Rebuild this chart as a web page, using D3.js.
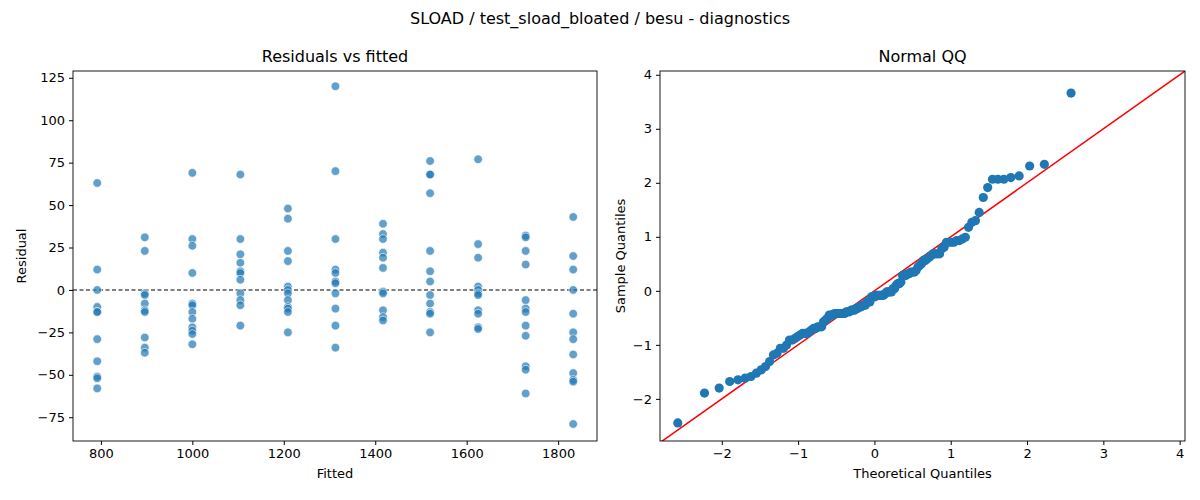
<!DOCTYPE html>
<html>
<head>
<meta charset="utf-8">
<script src="https://cdn.jsdelivr.net/npm/d3@7"></script>
<style>
  body { margin: 0; background: #fff; }
  text { font-family: "DejaVu Sans", sans-serif; fill: #000; }
</style>
</head>
<body>
<svg id="chart" width="1200" height="500"></svg>
<script>
// fitted level of each group and its residuals
var fitted = [792, 896, 1000, 1105, 1209, 1313, 1417, 1520, 1625, 1729, 1833];
var residuals = [
  [63, 12, 0, -10, -13, -13, -29, -42, -51, -52, -58],
  [31, 23, -2, -3, -8, -12, -13, -28, -34, -37],
  [69, 30, 26, 10, -8, -9, -13, -17, -22, -24, -26, -32],
  [68, 30, 21, 16, 11, 10, 6, -2, -6, -9, -21],
  [48, 42, 23, 17, 2, 0, -2, -6, -10, -11, -13, -25],
  [120, 70, 30, 12, 10, 5, 4, -2, -11, -21, -34],
  [39, 33, 30, 22, 19, 13, -1, -2, -12, -16, -18],
  [76, 68, 68, 57, 23, 11, 5, -3, -8, -13, -14, -25],
  [77, 27, 19, 2, 0, -2, -3, -12, -14, -22, -23],
  [32, 31, 23, 15, -6, -11, -13, -21, -27, -45, -47, -61],
  [43, 20, 12, 0, -14, -25, -29, -38, -49, -53, -54, -79]
];
var xTicksLeft = [800, 1000, 1200, 1400, 1600, 1800];
var yTicksLeft = [-75, -50, -25, 0, 25, 50, 75, 100, 125];
var qqTicks = [-2, -1, 0, 1, 2, 3, 4];

var svg = d3.select('#chart');
var blue = '#1f77b4';

svg.append('text').attr('x', 600).attr('y', 24).attr('text-anchor', 'middle')
  .style('font-size', '16px').text('SLOAD / test_sload_bloated / besu - diagnostics');

function frame(g, w, h, title) {
  g.append('rect').attr('width', w).attr('height', h)
    .attr('fill', 'none').attr('stroke', '#000').attr('stroke-width', 0.9);
  g.append('text').attr('x', w / 2).attr('y', -9).attr('text-anchor', 'middle')
    .style('font-size', '16px').text(title);
}
function styleAxis(a) {
  a.select('.domain').remove();
  a.selectAll('text').style('font-size', '13px').style('font-family', '"DejaVu Sans", sans-serif');
}
function fmt(d) { return d < 0 ? '\u2212' + Math.abs(d) : String(d); }

// ---- residuals vs fitted
var L = { x: 73, y: 71, w: 524, h: 370 };
var gl = svg.append('g').attr('transform', 'translate(' + L.x + ',' + L.y + ')');
var xl = d3.scaleLinear().domain([739, 1885]).range([0, L.w]);
var yl = d3.scaleLinear().domain([-89, 129]).range([L.h, 0]);

var pts = [];
fitted.forEach(function (f, i) {
  residuals[i].forEach(function (r) { pts.push({ f: f, r: r }); });
});

gl.append('line').attr('x1', 0).attr('x2', L.w).attr('y1', yl(0)).attr('y2', yl(0))
  .attr('stroke', '#000').attr('stroke-dasharray', '4,2.5').attr('stroke-width', 1.1);
gl.selectAll('circle.p').data(pts).enter().append('circle')
  .attr('cx', function (d) { return xl(d.f); })
  .attr('cy', function (d) { return yl(d.r); })
  .attr('r', 4.3).attr('fill', blue).attr('fill-opacity', 0.7)
  .attr('stroke', '#fff').attr('stroke-width', 0.6);

styleAxis(gl.append('g').attr('transform', 'translate(0,' + L.h + ')')
  .call(d3.axisBottom(xl).tickValues(xTicksLeft).tickSize(4).tickPadding(4).tickFormat(fmt)));
styleAxis(gl.append('g')
  .call(d3.axisLeft(yl).tickValues(yTicksLeft).tickSize(4).tickPadding(4).tickFormat(fmt)));
frame(gl, L.w, L.h, 'Residuals vs fitted');
gl.append('text').attr('x', L.w / 2).attr('y', L.h + 37).attr('text-anchor', 'middle')
  .style('font-size', '13px').text('Fitted');
gl.append('text').attr('transform', 'translate(-47,' + L.h / 2 + ') rotate(-90)')
  .attr('text-anchor', 'middle').style('font-size', '13px').text('Residual');

// ---- normal QQ from the same residuals
function invNorm(p) {
  var a = [-39.69683028665376, 220.9460984245205, -275.9285104469687, 138.3577518672690, -30.66479806614716, 2.506628277459239];
  var b = [-54.47609879822406, 161.5858368580409, -155.6989798598866, 66.80131188771972, -13.28068155288572];
  var c = [-0.007784894002430293, -0.3223964580411365, -2.400758277161838, -2.549732539343734, 4.374664141464968, 2.938163982698783];
  var e = [0.007784695709041462, 0.3224671290700398, 2.445134137142996, 3.754408661907416];
  var q, r;
  if (p < 0.02425) {
    q = Math.sqrt(-2 * Math.log(p));
    return (((((c[0]*q+c[1])*q+c[2])*q+c[3])*q+c[4])*q+c[5]) / ((((e[0]*q+e[1])*q+e[2])*q+e[3])*q+1);
  }
  if (p > 1 - 0.02425) return -invNorm(1 - p);
  q = p - 0.5; r = q * q;
  return (((((a[0]*r+a[1])*r+a[2])*r+a[3])*r+a[4])*r+a[5])*q / (((((b[0]*r+b[1])*r+b[2])*r+b[3])*r+b[4])*r+1);
}
var allR = pts.map(function (d) { return d.r; }).sort(d3.ascending);
var mean = d3.mean(allR), sd = d3.deviation(allR), n = allR.length;
var qq = allR.map(function (r, i) {
  return { t: invNorm((i + 1 - 0.375) / (n + 0.25)), s: (r - mean) / sd };
});

var R = { x: 660, y: 71, w: 525, h: 370 };
var gr = svg.append('g').attr('transform', 'translate(' + R.x + ',' + R.y + ')');
var xr = d3.scaleLinear().domain([-2.81, 4.07]).range([0, R.w]);
var yr = d3.scaleLinear().domain([-2.78, 4.07]).range([R.h, 0]);

gr.append('clipPath').attr('id', 'qclip').append('rect').attr('width', R.w).attr('height', R.h);
gr.append('line').attr('clip-path', 'url(#qclip)')
  .attr('x1', xr(-3)).attr('y1', yr(-3)).attr('x2', xr(4.5)).attr('y2', yr(4.5))
  .attr('stroke', 'red').attr('stroke-width', 1.5);
gr.selectAll('circle.q').data(qq).enter().append('circle')
  .attr('cx', function (d) { return xr(d.t); })
  .attr('cy', function (d) { return yr(d.s); })
  .attr('r', 4.6).attr('fill', blue);

styleAxis(gr.append('g').attr('transform', 'translate(0,' + R.h + ')')
  .call(d3.axisBottom(xr).tickValues(qqTicks).tickSize(4).tickPadding(4).tickFormat(fmt)));
styleAxis(gr.append('g')
  .call(d3.axisLeft(yr).tickValues(qqTicks).tickSize(4).tickPadding(4).tickFormat(fmt)));
frame(gr, R.w, R.h, 'Normal QQ');
gr.append('text').attr('x', R.w / 2).attr('y', R.h + 37).attr('text-anchor', 'middle')
  .style('font-size', '13px').text('Theoretical Quantiles');
gr.append('text').attr('transform', 'translate(-35,' + R.h / 2 + ') rotate(-90)')
  .attr('text-anchor', 'middle').style('font-size', '13px').text('Sample Quantiles');
</script>
</body>
</html>
